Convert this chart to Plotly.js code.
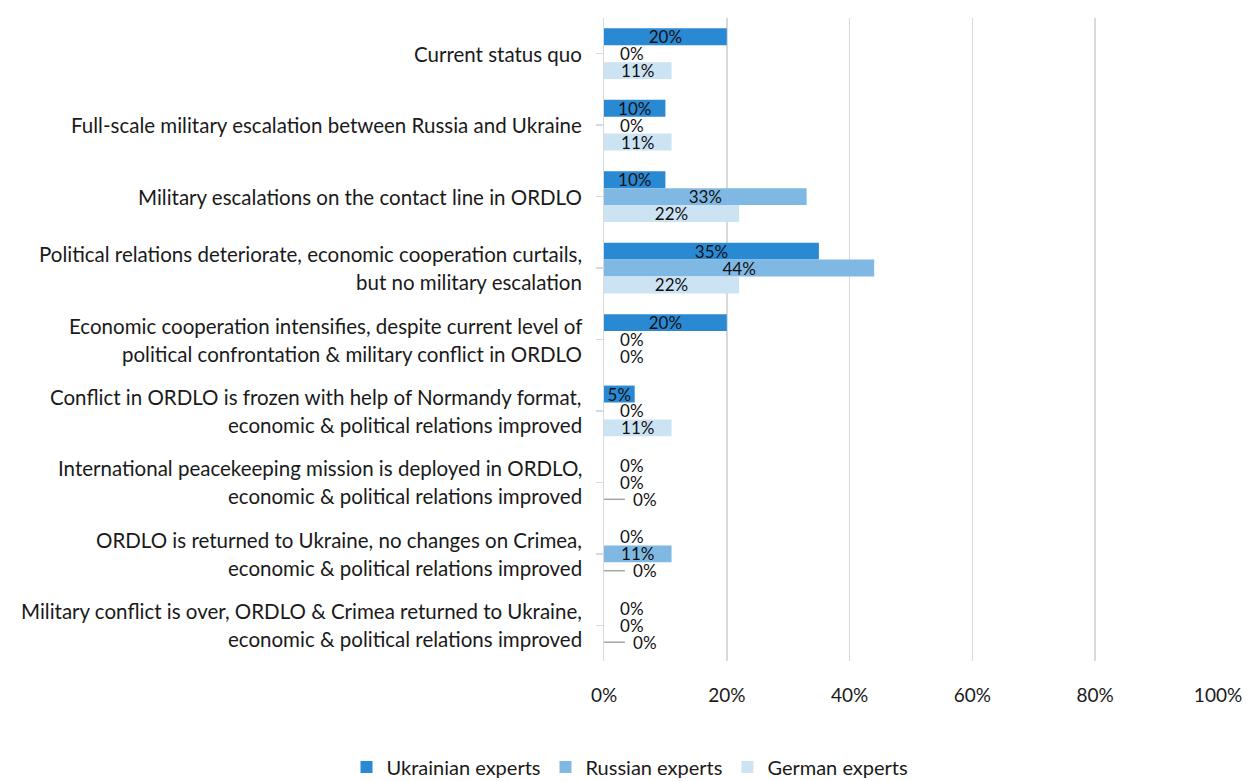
<!DOCTYPE html>
<html>
<head>
<meta charset="utf-8">
<script src="https://cdn.plot.ly/plotly-3.0.1.min.js"></script>
<style>html,body{margin:0;padding:0;background:#fff;}#chart{width:1255px;height:781px;}</style>
</head>
<body>
<div id="chart"></div>
<script>
const categories = [
  "Current status quo",
  "Full-scale military escalation between Russia and Ukraine",
  "Military escalations on the contact line in ORDLO",
  "Political relations deteriorate, economic cooperation curtails,<br>but no military escalation",
  "Economic cooperation intensifies, despite current level of<br>political confrontation & military conflict in ORDLO",
  "Conflict in ORDLO is frozen with help of Normandy format,<br>economic & political relations improved",
  "International peacekeeping mission is deployed in ORDLO,<br>economic & political relations improved",
  "ORDLO is returned to Ukraine, no changes on Crimea,<br>economic & political relations improved",
  "Military conflict is over, ORDLO & Crimea returned to Ukraine,<br>economic & political relations improved"
];
const ukrainian = [20, 10, 10, 35, 20, 5, 0, 0, 0];
const russian   = [0, 0, 33, 44, 0, 0, 0, 11, 0];
const german    = [11, 11, 22, 22, 0, 11, 0, 0, 0];
const seriesNames = ["Ukrainian experts", "Russian experts", "German experts"];
const xTicks = [0, 20, 40, 60, 80, 100];
// categories whose German 0% label carries a leader line
const germanLeaderCats = [6, 7, 8];

const colors = ["#2a89d3", "#7fb9e3", "#cce3f4"];
const FONT = "Lato, 'Open Sans', sans-serif";
const ids = categories.map((c, i) => i);
const BARGAP = 0.29;
const NB = "\u00a0";

function trace(vals, name, color, leaders) {
  return {
    type: "bar", orientation: "h",
    x: vals, y: ids, name: name,
    marker: {color: color},
    text: vals.map((v, i) => v === 0 ? NB.repeat(leaders && leaders.includes(i) ? 6 : 3) + v + "%" : v + "%"),
    textposition: vals.map(v => v === 0 ? "outside" : "inside"),
    insidetextanchor: "middle",
    constraintext: "none",
    textangle: 0,
    textfont: {family: FONT, size: 17, color: "#111"},
    cliponaxis: false,
    hoverinfo: "skip"
  };
}

const data = [
  trace(ukrainian, seriesNames[0], colors[0]),
  trace(russian, seriesNames[1], colors[1]),
  trace(german, seriesNames[2], colors[2], germanLeaderCats)
];

const annotations = [];
categories.forEach((c, i) => {
  const lines = c.split("<br>");
  const n = lines.length;
  lines.forEach((ln, j) => {
    annotations.push({
      xref: "paper", yref: "y", x: -0.0325, y: i,
      xanchor: "right", yanchor: "middle", align: "right",
      yshift: ((n - 1) / 2 - j) * 28,
      text: ln, showarrow: false,
      font: {family: FONT, size: 20.5, color: "#1a1a1a"}
    });
  });
});

// leader lines for the German zero labels (placed at the German bar's slot)
const slot = (1 - BARGAP) / 3;
const shapes = germanLeaderCats.map(i => ({
  type: "line", xref: "x", yref: "y",
  x0: 0, x1: 3.4, y0: i + slot, y1: i + slot,
  line: {color: "#a6a6a6", width: 1.5}
}));

const layout = {
  width: 1255, height: 781,
  margin: {l: 604, r: 37, t: 18, b: 120},
  paper_bgcolor: "#fff", plot_bgcolor: "#fff",
  barmode: "group", bargap: BARGAP, bargroupgap: 0,
  showlegend: true,
  legend: {
    orientation: "h", xref: "container", yref: "container",
    x: 0.502, xanchor: "center", y: 0.018, yanchor: "middle",
    font: {family: FONT, size: 20, color: "#1a1a1a"},
    traceorder: "normal", itemwidth: 30
  },
  xaxis: {
    range: [0, 100], tickvals: xTicks, ticktext: xTicks.map(v => v + "%"),
    showgrid: true, gridcolor: "#d9d9d9", gridwidth: 1.5,
    zeroline: false, showline: false, ticks: "",
    ticklabelstandoff: 21,
    tickfont: {family: FONT, size: 19, color: "#1a1a1a"},
    fixedrange: true
  },
  yaxis: {
    autorange: "reversed", tickvals: ids, showticklabels: false,
    showline: true, linecolor: "#d9d9d9", linewidth: 1.5,
    ticks: "outside", tickson: "boundaries", ticklen: 7, tickcolor: "#d9d9d9", tickwidth: 1.5,
    showgrid: false, zeroline: false, fixedrange: true
  },
  annotations: annotations,
  shapes: shapes,
  font: {family: FONT, color: "#1a1a1a"}
};

Plotly.newPlot("chart", data, layout, {displayModeBar: false, staticPlot: true});
</script>
</body>
</html>
